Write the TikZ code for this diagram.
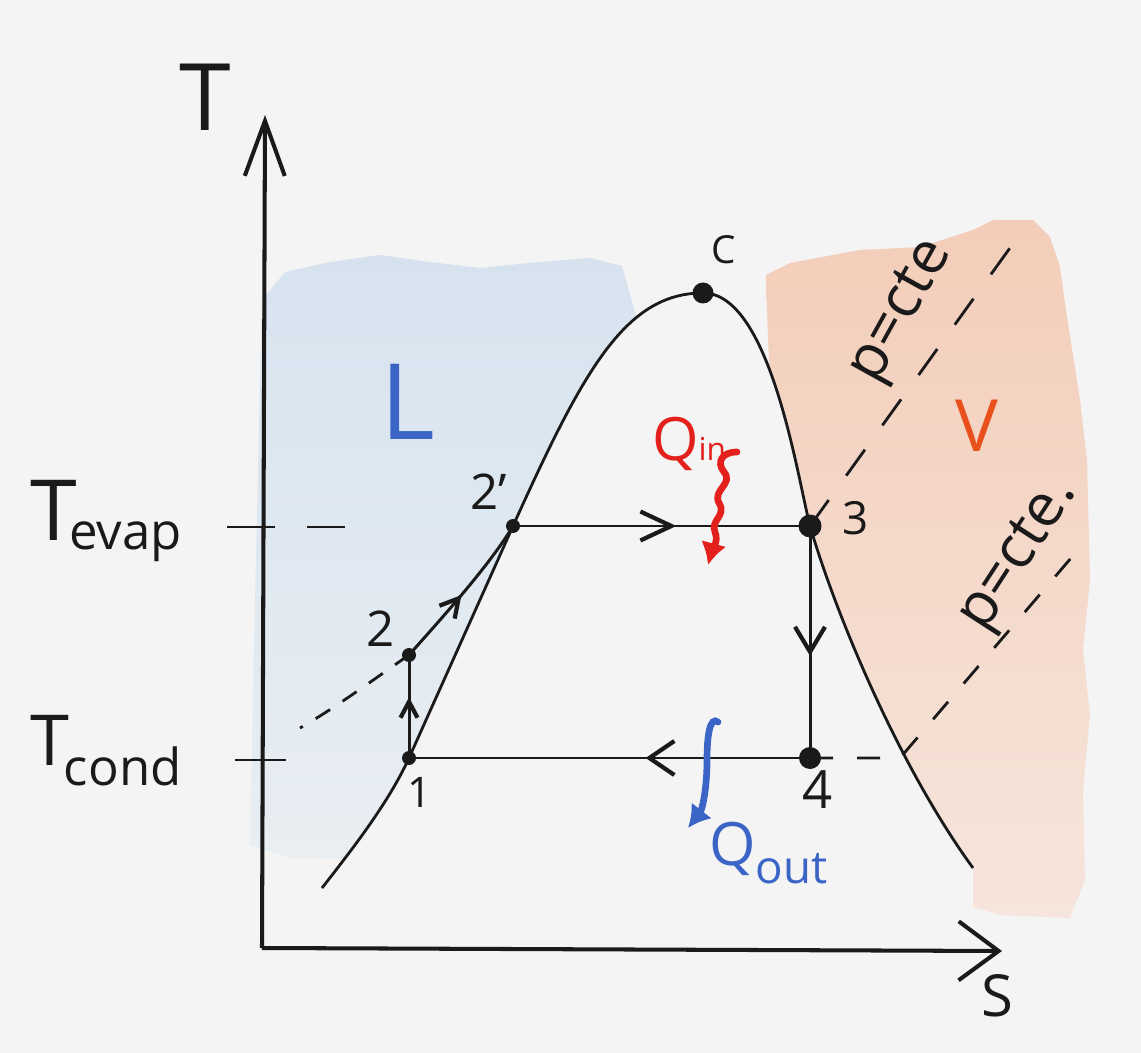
\documentclass[tikz,border=0pt]{standalone}
\usepackage{fontspec}
\setmainfont{Open Sans}
\usetikzlibrary{arrows.meta,decorations.markings}
\definecolor{paper}{HTML}{F4F4F4}
\definecolor{ink}{HTML}{1A1A1A}
\definecolor{liqtop}{HTML}{D6E3EF}
\definecolor{liqbot}{HTML}{E9EEF2}
\definecolor{vaptop}{HTML}{F3CDB9}
\definecolor{vapbot}{HTML}{F6E5DC}
\definecolor{qred}{HTML}{E3201C}
\definecolor{qblue}{HTML}{3A65C6}
\definecolor{vorange}{HTML}{E9511C}
\newcommand{\fs}[1]{\fontsize{#1}{#1}\selectfont}
\tikzset{
  curve/.style={draw=ink, line width=1.6pt},
  cyc/.style={draw=ink, line width=1.7pt},
  axis/.style={draw=ink, line width=2.3pt},
  iso/.style={draw=ink, line width=1.6pt, dash pattern=on 0.64cm off 0.6cm},
  dot/.style={circle, fill=ink, inner sep=0pt, minimum size=#1},
  dot/.default=0.28cm,
  lbl/.style={text=ink, inner sep=1pt},
  heat/.style={draw=#1, line width=3.8pt, line cap=round, -{Latex[length=0.44cm, width=0.52cm]}},
  mid/.style n args={3}{postaction={decorate}, decoration={markings,
    mark=at position #1 with {\arrow{Straight Barb[length=#2, width=#3, line width=2.4pt]}}}}
}

\begin{document}
\begin{tikzpicture}[x=0.02cm, y=-0.02cm]
  \useasboundingbox (0,0) rectangle (1141,1053);
  \fill[paper] (0,0) rectangle (1141,1053);

  % liquid wash, kept left of the dome
  \begin{scope}
    \clip (322,888) .. controls (350,852) and (388,804) .. (409,758) .. controls (443,682) and (480,600) .. (513,526)
      .. controls (583,371) and (625,293) .. (703,293) -- (703,0) -- (0,0) -- (0,1053) -- (322,1053) -- cycle;
    \shade[top color=liqtop, bottom color=liqbot]
      (250,845) -- (255,600) -- (262,300) -- (285,272) -- (330,262) -- (380,255) -- (430,262)
      -- (480,268) -- (540,262) -- (590,258) -- (622,266) -- (640,330) -- (560,600) -- (420,860)
      -- (290,858) -- cycle;
  \end{scope}
  % vapour wash, kept right of the dome
  \begin{scope}
    \clip (703,293) .. controls (770,293) and (797,475) .. (810,526) .. controls (835,612) and (898,765) .. (973,868)
      -- (973,1053) -- (1141,1053) -- (1141,0) -- (703,0) -- cycle;
    \shade[top color=vaptop, bottom color=vapbot]
      (766,275) -- (790,263) -- (860,250) -- (920,247) -- (973,230) -- (993,220) -- (1033,220)
      -- (1050,237) -- (1060,267) -- (1067,317) -- (1080,400) -- (1087,460) -- (1090,580)
      -- (1083,650) -- (1090,715) -- (1083,790) -- (1085,880) -- (1070,918) -- (1000,915)
      -- (950,900) -- (780,560) -- (768,340) -- cycle;
  \end{scope}

  % axes
  \coordinate (O) at (262,948);
  \coordinate (Ttop) at (265,115);
  \coordinate (Send) at (1002,951);
  \draw[axis, -{Straight Barb[length=1.1cm, width=0.8cm]}] (O) -- (Ttop);
  \draw[axis, -{Straight Barb[length=0.8cm, width=1.18cm]}] (O) -- (Send);
  \node[lbl, font=\fs{53}] (tlab) at (205,97) {T};
  \node[lbl, font=\fs{33}] (slab) at (997,996) {S};

  % temperature levels
  \node[lbl, anchor=base west] (tev) at (28,540) {\fs{48}T\kern-0.15cm\raisebox{-0.2cm}{\fs{29}evap}};
  \node[lbl, anchor=base west] (tcd) at (28,765) {\fs{40}T\kern-0.1cm\raisebox{-0.4cm}{\fs{29}cond}};
  \coordinate (ev0) at (227,527);
  \coordinate (ev1) at (345,527);
  \coordinate (cd0) at (235,760);
  \coordinate (cd1) at (286,760);
  \draw[curve, dash pattern=on 0.96cm off 0.64cm] (ev0) -- (ev1);
  \draw[curve] (cd0) -- (cd1);

  % saturation dome
  \draw[curve] (322,888) .. controls (350,852) and (388,804) .. (409,758)
    .. controls (443,682) and (480,600) .. (513,526)
    .. controls (583,371) and (625,293) .. (703,293)
    .. controls (770,293) and (797,475) .. (810,526)
    .. controls (835,612) and (898,765) .. (973,868);

  % states
  \node[dot] (p1) at (409,758) {};
  \node[dot] (p2) at (409,655) {};
  \node[dot] (p2p) at (513,526) {};
  \node[dot=0.46cm] (p3) at (810,526) {};
  \node[dot=0.44cm] (p4) at (810,758) {};
  \node[dot=0.42cm] (pc) at (703,293) {};
  \node[lbl, font=\fs{24}] (l1) at (420,792) {1};
  \node[lbl, font=\fs{28}] (l2) at (381,629) {2};
  \node[lbl, font=\fs{28}] (l2p) at (489,492) {2'};
  \node[lbl, font=\fs{26}] (l3) at (856,518) {3};
  \node[lbl, font=\fs{30}] (l4) at (818,790) {4};
  \node[lbl, font=\fs{22}] (lc) at (724,250) {C};

  % isobars
  \coordinate (liq) at (300,728);
  \coordinate (iso1) at (1025,227);
  \coordinate (bend) at (900,758);
  \coordinate (iso2) at (1077,551);
  \draw[iso, dash pattern=on 0.34cm off 0.3cm] (p2.center) .. controls (370,682) and (335,708) .. (liq);
  \draw[iso] (p3.center) -- (iso1);
  \draw[iso, dash pattern=on 0.46cm off 0.48cm] (p4.center) -- (bend) -- (iso2);
  \node[lbl, font=\fs{34}, rotate=61] (pcte1) at (903,312) {p=cte};
  \node[lbl, font=\fs{34}, rotate=57] (pcte2) at (1020,556) {p=cte.};

  % cycle
  \draw[cyc, mid={0.59}{0.32cm}{0.34cm}] (p1.center) -- (p2.center);
  \draw[cyc, mid={0.48}{0.36cm}{0.4cm}] (p2.center) .. controls (440,620) and (490,565) .. (p2p.center);
  \draw[cyc, mid={0.55}{0.62cm}{0.58cm}] (p2p.center) -- (p3.center);
  \draw[cyc, mid={0.56}{0.5cm}{0.6cm}] (p3.center) -- (p4.center);
  \draw[cyc, mid={0.41}{0.5cm}{0.68cm}] (p4.center) -- (p1.center);

  % heat exchanged
  \node[text=qred, inner sep=1pt, anchor=base west] (qin) at (650,460) {\fs{34}Q\fs{18}in};
  \node[text=qblue, inner sep=1pt, anchor=base west] (qout) at (707,865) {\fs{34}Q\raisebox{-0.36cm}{\fs{26}out}};
  \coordinate (qi0) at (737,452);
  \coordinate (qi1) at (708,565);
  \coordinate (qo0) at (718,722);
  \coordinate (qo1) at (688,828);
  \draw[heat=qred] (qi0) .. controls (722,452) and (716,462) .. (724,472) .. controls (734,484) and (712,490) .. (719,503)
    .. controls (727,516) and (710,520) .. (715,532) .. controls (719,542) and (712,550) .. (qi1);
  \draw[heat=qblue] (qo0) .. controls (710,716) and (707,735) .. (707,760) .. controls (707,790) and (702,810) .. (qo1);

  % phase labels
  \node[text=qblue, inner sep=1pt, font=\fs{60}] (liqlab) at (408,402) {L};
  \node[text=vorange, inner sep=1pt, font=\fs{41}] (vaplab) at (977,426) {V};
\end{tikzpicture}
\end{document}
